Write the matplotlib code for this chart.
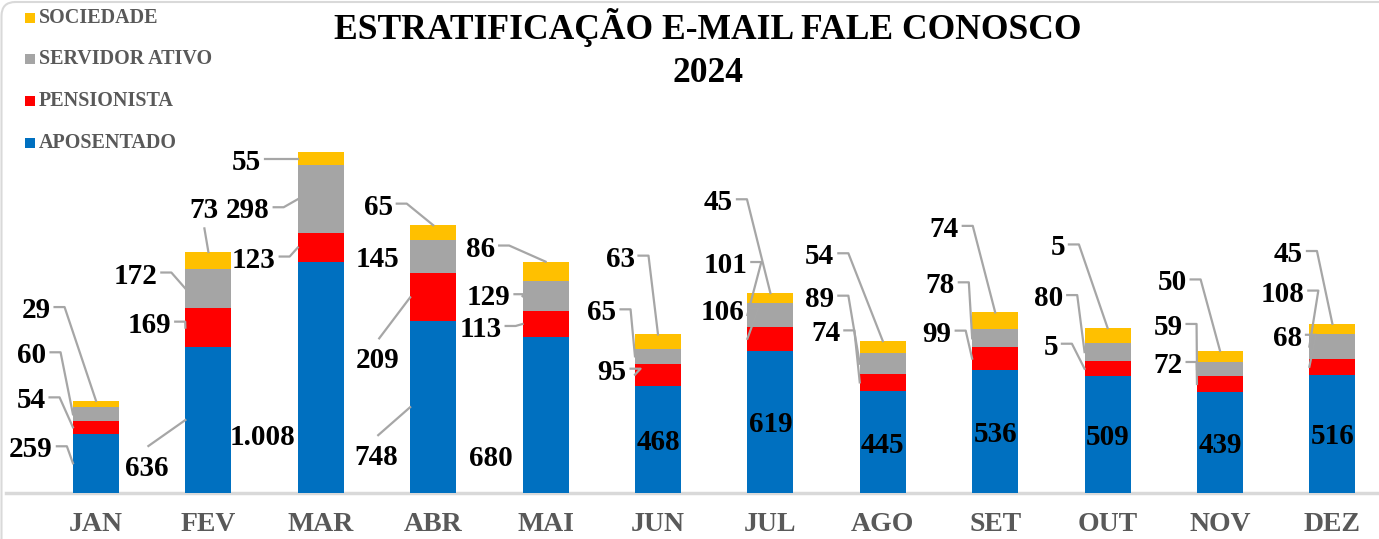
import matplotlib
matplotlib.use('Agg')
import matplotlib.pyplot as plt
from matplotlib.patches import Rectangle, FancyBboxPatch
from matplotlib.lines import Line2D
from matplotlib.transforms import IdentityTransform

# ---------------- data ----------------
months = ['JAN', 'FEV', 'MAR', 'ABR', 'MAI', 'JUN', 'JUL', 'AGO', 'SET', 'OUT', 'NOV', 'DEZ']
aposentado = [259, 636, 1008, 748, 680, 468, 619, 445, 536, 509, 439, 516]
pensionista = [54, 169, 123, 209, 113, 95, 106, 74, 99, 65, 72, 68]
servidor_ativo = [60, 172, 298, 145, 129, 65, 101, 89, 78, 80, 59, 108]
sociedade = [29, 73, 55, 65, 86, 63, 45, 54, 74, 65, 50, 45]

# data-label texts exactly as printed on the chart
aposentado_txt = ['259', '636', '1.008', '748', '680', '468', '619', '445', '536', '509', '439', '516']
pensionista_txt = ['54', '169', '123', '209', '113', '95', '106', '74', '99', '5', '72', '68']
servidor_txt = ['60', '172', '298', '145', '129', '65', '101', '89', '78', '80', '59', '108']
sociedade_txt = ['29', '73', '55', '65', '86', '63', '45', '54', '74', '5', '50', '45']

series_names = ['APOSENTADO', 'PENSIONISTA', 'SERVIDOR ATIVO', 'SOCIEDADE']
colors = ['#0070C0', '#FF0000', '#A5A5A5', '#FFC000']

# ---------------- layout (label offsets in px, leader styles) ----------------
# (dx, dy, leader) : dx,dy = offset of label visual centre from segment centre
# leader: 'L' stub -> bar left edge mid, 'T' stub -> segment top centre,
#         'B' from label top -> left mid, 'A' from label bottom -> top centre, '' none
lay_apos = [(-65, -16, 'L'), (-62, 46, 'B'), (-58, 58, ''), (-57, 48, 'B'), (-55, 41, ''),
            (0, 1, ''), (0, 0, ''), (0, 1, ''), (0, 1, ''), (0, 0, ''), (0, 0, ''), (0, 0, '')]
lay_pens = [(-65, -29, 'L'), (-59, -5, 'L'), (-67, 10, 'L'), (-56, 61, 'B'), (-65, 3, 'L'),
            (-46, -5, 'L'), (-48, -29, 'L'), (-57, -51, 'L'), (-58, -27, 'L'), (-57, -24, 'L'),
            (-52, -21, 'L'), (-45, -31, 'L')]
lay_serv = [(-64, -61, 'L'), (-73, -15, 'L'), (-73, 9, 'L'), (-56, 0, ''), (-57, -1, 'L'),
            (-56, -46, 'L'), (-45, -52, 'L'), (-63, -67, 'L'), (-55, -55, 'L'), (-59, -56, 'L'),
            (-52, -44, 'L'), (-50, -55, 'L')]
lay_soc = [(-60, -96, 'T'), (-4, -52, 'A'), (-74, 1, 'L'), (-55, -28, 'T'), (-65, -25, 'T'),
           (-38, -85, 'T'), (-52, -98, 'T'), (-63, -93, 'T'), (-51, -94, 'T'), (-50, -90, 'T'),
           (-48, -76, 'T'), (-44, -77, 'T')]

W, H = 1379, 539
SERIF = ['Liberation Serif', 'DejaVu Serif']

fig = plt.figure(figsize=(W / 100, H / 100), dpi=100)
fig.patch.set_facecolor('white')

# chart border (rounded, light grey)
border = FancyBboxPatch((1.5, -30), W + 40, H + 30 - 2,
                        boxstyle='round,pad=0,rounding_size=14',
                        transform=IdentityTransform(), facecolor='none',
                        edgecolor='#D9D9D9', linewidth=1.5)
fig.patches.append(border)

base_img = 493
ax = fig.add_axes([6 / W, (H - base_img) / H, (W - 6) / W, base_img / H])
ax.set_facecolor('none')
ppu = 0.2295
ax.set_ylim(0, base_img / ppu)
step, c0 = 112.4, 96
ax.set_xlim((6 - c0) / step, (W - c0) / step)
for sp in ax.spines.values():
    sp.set_visible(False)
ax.set_yticks([])
ax.axhline(0, color='#D9D9D9', linewidth=2.5, zorder=1, clip_on=False)

xs = list(range(len(months)))
bw = 0.41
all_vals = [aposentado, pensionista, servidor_ativo, sociedade]
all_txt = [aposentado_txt, pensionista_txt, servidor_txt, sociedade_txt]
all_lay = [lay_apos, lay_pens, lay_serv, lay_soc]

bottoms = [0] * len(months)
seg_info = []  # (series idx, i, bottom, value)
for k, vals in enumerate(all_vals):
    ax.bar(xs, vals, width=bw, bottom=bottoms, color=colors[k], edgecolor='none', zorder=2)
    for i, v in enumerate(vals):
        seg_info.append((k, i, bottoms[i], v))
    bottoms = [b + v for b, v in zip(bottoms, vals)]

ax.set_xticks(xs)
ax.set_xticklabels(months, fontsize=20, fontweight='bold', color='#595959', family=SERIF)
ax.tick_params(axis='x', length=0, pad=14)

LABEL_FS = 21
half_digit = 10  # px between baseline and visual centre of digits

anns = []
for (k, i, b, v) in seg_info:
    dx, dy, leader = all_lay[k][i]
    mid = b + v / 2.0
    t = ax.annotate(all_txt[k][i], xy=(i, mid), xytext=(dx, -dy - half_digit),
                    textcoords='offset pixels', ha='center', va='baseline',
                    fontsize=LABEL_FS, fontweight='bold', family=SERIF, color='black',
                    zorder=5, annotation_clip=False)
    anns.append((t, k, i, b, v, leader))

fig.canvas.draw()
renderer = fig.canvas.get_renderer()
for (t, k, i, b, v, leader) in anns:
    if not leader:
        continue
    bb = t.get_window_extent(renderer)
    bx, by = ax.transData.transform((i, b + v / 2.0))
    base_disp = by + (t.xyann[1])
    cx = bb.x0 + bb.width / 2
    cy = base_disp + half_digit + 1
    left_mid = ax.transData.transform((i - bw / 2, b + v / 2.0))
    top_c = ax.transData.transform((i, b + v))
    if leader in ('L', 'T'):
        anc = left_mid if leader == 'L' else top_c
        px = [bb.x1 + 4, bb.x1 + 14, anc[0]]
        py = [cy, cy, anc[1]]
    elif leader == 'B':
        anc = left_mid
        px = [cx + 2, anc[0]]
        py = [base_disp + 2 * half_digit + 10, anc[1]]
    else:  # 'A'
        anc = top_c
        px = [cx, anc[0]]
        py = [base_disp - 10, anc[1]]
    fig.lines.append(Line2D(px, py, transform=IdentityTransform(), color='#A6A6A6',
                            linewidth=1.6, zorder=4))

# title
fig.text(708 / W, 1 - 39 / H, 'ESTRATIFICAÇÃO E-MAIL FALE CONOSCO', ha='center', va='baseline',
         fontsize=25.6, fontweight='bold', family=SERIF, color='black')
fig.text(708 / W, 1 - 82 / H, '2024', ha='center', va='baseline',
         fontsize=25.6, fontweight='bold', family=SERIF, color='black')

# legend (top-left, stacked reverse order)
leg_rows = [(3, 18), (2, 59), (1, 101), (0, 143)]
for k, yc in leg_rows:
    fig.patches.append(Rectangle((25, H - yc - 5), 10, 10, transform=IdentityTransform(),
                                 facecolor=colors[k], edgecolor='none'))
    fig.text(39 / W, 1 - yc / H, series_names[k], ha='left', va='center',
             fontsize=14.5, fontweight='bold', family=SERIF, color='#595959')

fig.savefig('out.png', dpi=100, facecolor='white')
